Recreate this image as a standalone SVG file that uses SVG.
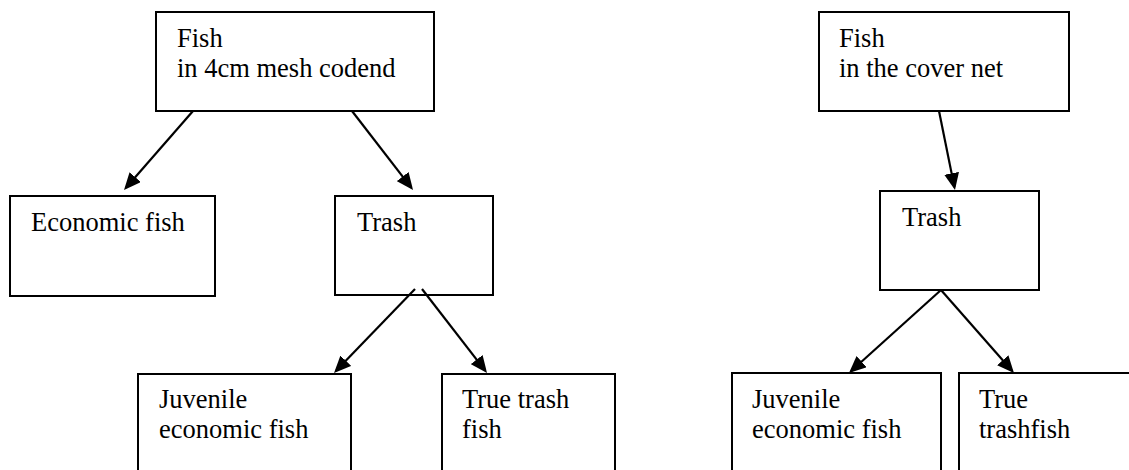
<svg xmlns="http://www.w3.org/2000/svg" width="1129" height="470" viewBox="0 0 1129 470">
<style>
.box{fill:#fff;stroke:#000;stroke-width:2}
.lbl{font-family:"Liberation Serif","Times New Roman",serif;font-size:26.5px;fill:#000}
.conn{stroke:#000;stroke-width:2.2;fill:none;marker-end:url(#arr)}
</style>
<defs>
<marker id="arr" viewBox="0 0 17 15" refX="14" refY="7.5" markerWidth="17" markerHeight="15" markerUnits="userSpaceOnUse" orient="auto">
<path d="M0,0 L17,7.5 L0,15 z" fill="#000"/>
</marker>
</defs>
<rect width="1129" height="470" fill="#fff"/>
<g id="fish-codend">
<rect class="box" x="156" y="12" width="278" height="99"/>
<text class="lbl" x="177" y="47">Fish</text>
<text class="lbl" x="177" y="77">in 4cm mesh codend</text>
</g>
<g id="economic-fish">
<rect class="box" x="10" y="196" width="205" height="100"/>
<text class="lbl" x="31" y="231">Economic fish</text>
</g>
<g id="trash-left">
<rect class="box" x="335" y="196" width="158" height="99"/>
<text class="lbl" x="357" y="231">Trash</text>
</g>
<g id="juvenile-left">
<rect class="box" x="138" y="374" width="213" height="110"/>
<text class="lbl" x="159" y="408">Juvenile</text>
<text class="lbl" x="159" y="438">economic fish</text>
</g>
<g id="true-trash-left">
<rect class="box" x="442" y="374" width="173" height="110"/>
<text class="lbl" x="462" y="408">True trash</text>
<text class="lbl" x="462" y="438">fish</text>
</g>
<g id="fish-cover">
<rect class="box" x="819" y="12" width="250" height="99"/>
<text class="lbl" x="839" y="47">Fish</text>
<text class="lbl" x="839" y="77">in the cover net</text>
</g>
<g id="trash-right">
<rect class="box" x="880" y="191" width="159" height="99"/>
<text class="lbl" x="902" y="226">Trash</text>
</g>
<g id="juvenile-right">
<rect class="box" x="732" y="373" width="209" height="110"/>
<text class="lbl" x="752" y="408">Juvenile</text>
<text class="lbl" x="752" y="438">economic fish</text>
</g>
<g id="true-trash-right">
<rect class="box" x="959" y="373" width="190" height="110"/>
<text class="lbl" x="979" y="408">True</text>
<text class="lbl" x="979" y="438">trashfish</text>
</g>
<g id="connectors">
<line class="conn" x1="193" y1="111" x2="126" y2="187.7"/>
<line class="conn" x1="352" y1="111" x2="411.2" y2="187.6"/>
<line class="conn" x1="415" y1="289" x2="336.1" y2="370.8"/>
<line class="conn" x1="422" y1="289" x2="485.2" y2="370.6"/>
<line class="conn" x1="939" y1="111" x2="954.4" y2="187.1"/>
<line class="conn" x1="941" y1="290" x2="851.2" y2="371"/>
<line class="conn" x1="941" y1="290" x2="1012" y2="370.7"/>
</g>
</svg>
